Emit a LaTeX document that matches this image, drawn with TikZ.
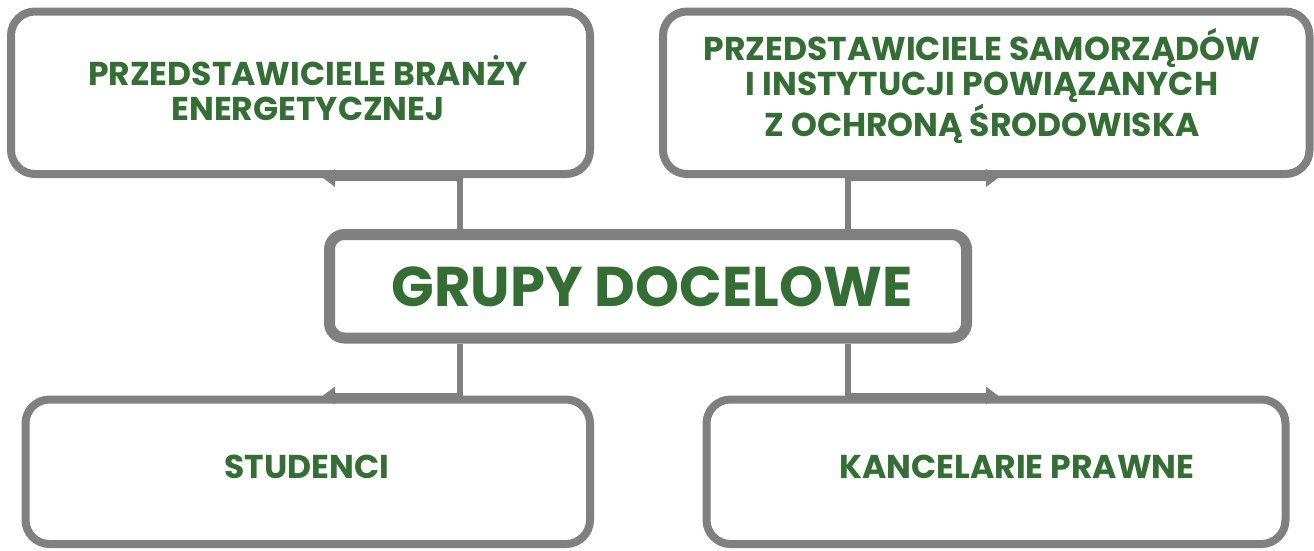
\documentclass[tikz,border=0pt]{standalone}
\usepackage{fontspec}
\setmainfont{Poppins}[BoldFont={* Bold}]
\usetikzlibrary{arrows.meta}
\definecolor{boxgray}{RGB}{128,128,128}
\definecolor{txtgreen}{RGB}{52,110,52}
\tikzset{
  box/.style={draw=boxgray, line width=8pt, rounded corners=24pt, rectangle, inner sep=0pt, fill=white},
  mainbox/.style={draw=boxgray, line width=11pt, rounded corners=15pt, rectangle, inner sep=0pt, fill=white},
  lbl/.style={text=txtgreen, font=\bfseries\fontsize{33}{35}\selectfont, align=center, inner sep=0pt},
  mainlbl/.style={text=txtgreen, font=\bfseries\fontsize{56}{60}\selectfont, align=center, inner sep=0pt},
  conn/.style={draw=boxgray, line width=6pt},
  arr/.style={draw=boxgray, line width=6pt, -{Triangle[length=12pt,width=17pt]}}
}
\begin{document}
\begin{tikzpicture}[x=1pt,y=1pt]
\useasboundingbox (0,0) rectangle (1314,-550);
% boxes
\node[box, minimum width=579pt, minimum height=162.5pt] (tl) at (300.5,-92.75) {};
\node[box, minimum width=646.5pt, minimum height=162.5pt] (tr) at (986.25,-92.75) {};
\node[box, minimum width=564.5pt, minimum height=144.5pt] (bl) at (307.75,-471.75) {};
\node[box, minimum width=579pt, minimum height=144.5pt] (br) at (996,-471.75) {};
\node[mainbox, minimum width=637pt, minimum height=103.5pt] (g) at (648,-286.25) {};
% connector coordinates
\coordinate (xl) at (460,0);
\coordinate (xr) at (848,0);
\coordinate (tipl) at (323,0);
\coordinate (tipr) at (998,0);
% connectors
\draw[conn] (g.north -| xl) -- (tl.south -| xl);
\draw[arr] (tl.south -| xl) -- (tl.south -| tipl);
\draw[conn] (g.north -| xr) -- (tr.south -| xr);
\draw[arr] (tr.south -| xr) -- (tr.south -| tipr);
\draw[conn] (g.south -| xl) -- (bl.north -| xl);
\draw[arr] (bl.north -| xl) -- (bl.north -| tipl);
\draw[conn] (g.south -| xr) -- (br.north -| xr);
\draw[arr] (br.north -| xr) -- (br.north -| tipr);
% labels
\node[lbl] (ttl) at (308,-88) {PRZEDSTAWICIELE BRANŻY\\ENERGETYCZNEJ};
\node[lbl] (ttr) at (982,-86) {PRZEDSTAWICIELE SAMORZĄDÓW\\I INSTYTUCJI POWIĄZANYCH\\Z OCHRONĄ ŚRODOWISKA};
\node[mainlbl] (tg) at (652,-287) {GRUPY DOCELOWE};
\node[lbl] (tbl) at (307,-467) {STUDENCI};
\node[lbl] (tbr) at (1017,-467) {KANCELARIE PRAWNE};
\end{tikzpicture}
\end{document}
